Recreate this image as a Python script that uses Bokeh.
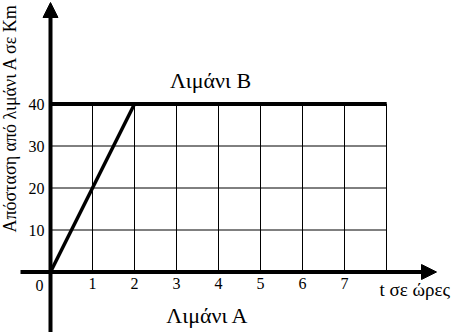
import numpy as np
from bokeh.plotting import figure
from bokeh.models import Range1d, Arrow, NormalHead, Label
from bokeh.core.properties import value
from bokeh.embed import file_html
from bokeh.resources import INLINE

# ---- data ----
t_hours = [0, 2, 8]
distance_km = [0, 40, 40]
x_ticks = [1, 2, 3, 4, 5, 6, 7]
x_tick_labels = ["1", "2", "3", "4", "5", "6", "7"]
origin_label = "0"
y_ticks = [10, 20, 30, 40]
y_tick_labels = ["10", "20", "30", "40"]
x_grid = [1, 2, 3, 4, 5, 6, 7, 8]
y_grid = [10, 20, 30]
x_max = 8
port_b_km = 40
port_a_label = "Λιμάνι Α"
port_b_label = "Λιμάνι Β"
x_title = "t σε ώρες"
y_title = "Απόσταση από λιμάνι Α σε Km"

# ---- layout ----
W, H = 457, 332
ox, oy = 50.0, 271.5      # pixel position of origin
sx, sy = 42.0, 4.2        # pixels per hour / per km
FONT_NAME = "Liberation Serif"
FONT = value(FONT_NAME)

def px_x(px):
    return (px - ox) / sx

def px_y(py):
    return (oy - py) / sy

p = figure(width=W, height=H,
           x_range=Range1d(px_x(0), px_x(W)),
           y_range=Range1d(px_y(H), px_y(0)),
           x_axis_type=None, y_axis_type=None,
           min_border=0, toolbar_location=None, output_backend="svg")
p.grid.visible = False
p.outline_line_color = None
p.background_fill_color = "white"
p.border_fill_color = "white"

# grid
p.segment(x0=x_grid, y0=[0] * len(x_grid), x1=x_grid, y1=[port_b_km] * len(x_grid),
          line_color="black", line_width=1)
p.segment(x0=[0] * len(y_grid), y0=y_grid, x1=[x_max] * len(y_grid), y1=y_grid,
          line_color="black", line_width=1)

# port B line
p.segment(x0=[0], y0=[port_b_km], x1=[x_max], y1=[port_b_km],
          line_color="black", line_width=4)

# motion line
p.line(t_hours, distance_km, line_color="black", line_width=3.5)

# axes with arrows
p.add_layout(Arrow(x_start=px_x(20), y_start=0, x_end=px_x(436), y_end=0,
                   line_color="black", line_width=4,
                   end=NormalHead(size=15, fill_color="black", line_color="black", line_width=1)))
p.add_layout(Arrow(x_start=0, y_start=px_y(H + 2), x_end=0, y_end=px_y(2),
                   line_color="black", line_width=4,
                   end=NormalHead(size=15, fill_color="black", line_color="black", line_width=1)))

# tick labels
p.text(x=x_ticks, y=[0] * len(x_ticks), text=x_tick_labels, y_offset=11,
       text_align="center", text_baseline="middle", text_font=FONT,
       text_font_size="16px", text_color="black")
p.text(x=[0], y=[0], text=[origin_label], x_offset=-11, y_offset=13,
       text_align="center", text_baseline="middle", text_font=FONT,
       text_font_size="16px", text_color="black")
p.text(x=[0] * len(y_ticks), y=y_ticks, text=y_tick_labels, x_offset=-6, y_offset=0,
       text_align="right", text_baseline="middle", text_font=FONT,
       text_font_size="16px", text_color="black")

# port labels (annotations)
p.add_layout(Label(x=px_x(210), y=px_y(80), text=port_b_label,
                   text_align="center", text_baseline="middle", text_font=FONT_NAME,
                   text_font_size="22px", text_color="black"))
p.add_layout(Label(x=px_x(207), y=px_y(315), text=port_a_label,
                   text_align="center", text_baseline="middle", text_font=FONT_NAME,
                   text_font_size="22px", text_color="black"))

# axis titles
p.add_layout(Label(x=px_x(379), y=px_y(289), text=x_title,
                   text_align="left", text_baseline="middle", text_font=FONT_NAME,
                   text_font_size="19px", text_color="black"))
p.add_layout(Label(x=px_x(9), y=px_y(232), text=y_title, angle=np.pi / 2,
                   text_align="left", text_baseline="middle", text_font=FONT_NAME,
                   text_font_size="18px", text_color="black"))

open("out.html", "w").write(file_html(p, INLINE))
